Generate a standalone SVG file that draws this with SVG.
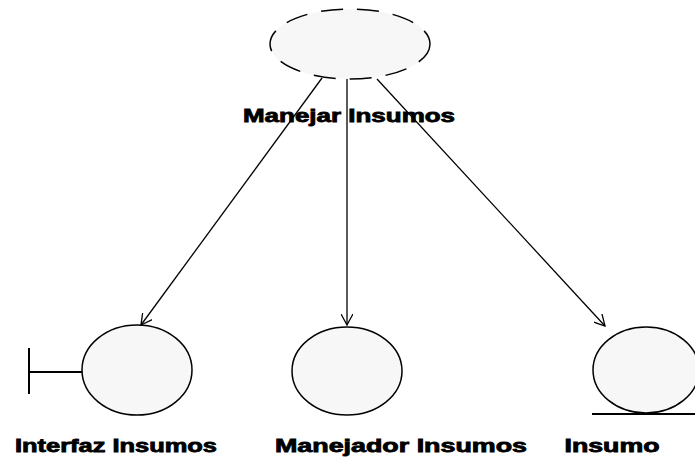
<svg xmlns="http://www.w3.org/2000/svg" width="695" height="461" viewBox="0 0 695 461">
  <style>
    .shape { fill: #f7f7f7; stroke: #000; stroke-width: 1.5; }
    .ctl { fill: #f7f7f7; stroke: #000; stroke-width: 1.5; stroke-dasharray: 22 14; }
    .bar { stroke: #000; stroke-width: 2; fill: none; }
    .edge { stroke: #000; stroke-width: 1.3; fill: none; marker-end: url(#open); }
    .lbl { font-family: "Liberation Sans", Arial, sans-serif; font-weight: bold; font-size: 18px; fill: #000; stroke: #000; stroke-width: 0.8; }
  </style>
  <defs>
    <marker id="open" viewBox="0 0 12 12" refX="11" refY="6" markerWidth="12" markerHeight="12" markerUnits="userSpaceOnUse" orient="auto">
      <path d="M0,0 L11,6 L0,12" fill="none" stroke="#000" stroke-width="1.3"/>
    </marker>
  </defs>

  <rect width="695" height="461" fill="#fff"/>

  <g id="manejar-insumos">
    <ellipse class="ctl" cx="350" cy="44" rx="80" ry="35"/>
    <text class="lbl" x="349" y="122" text-anchor="middle" textLength="212" lengthAdjust="spacingAndGlyphs">Manejar Insumos</text>
  </g>

  <g id="interfaz-insumos">
    <line class="bar" x1="29" y1="348" x2="29" y2="394"/>
    <line class="bar" x1="29" y1="372" x2="83" y2="372"/>
    <ellipse class="shape" cx="137" cy="370" rx="55" ry="45"/>
    <text class="lbl" x="116" y="452" text-anchor="middle" textLength="202" lengthAdjust="spacingAndGlyphs">Interfaz Insumos</text>
  </g>

  <g id="manejador-insumos">
    <ellipse class="shape" cx="347" cy="371" rx="55" ry="44"/>
    <text class="lbl" x="401" y="452" text-anchor="middle" textLength="252" lengthAdjust="spacingAndGlyphs">Manejador Insumos</text>
  </g>

  <g id="insumo">
    <ellipse class="shape" cx="646" cy="370" rx="53" ry="43"/>
    <line class="bar" x1="592" y1="414" x2="695" y2="414"/>
    <text class="lbl" x="612" y="452" text-anchor="middle" textLength="95" lengthAdjust="spacingAndGlyphs">Insumo</text>
  </g>

  <g id="connectors">
    <line class="edge" x1="322" y1="78" x2="141" y2="325"/>
    <line class="edge" x1="347" y1="79" x2="347" y2="325"/>
    <line class="edge" x1="377" y1="79" x2="605" y2="326"/>
  </g>
</svg>
